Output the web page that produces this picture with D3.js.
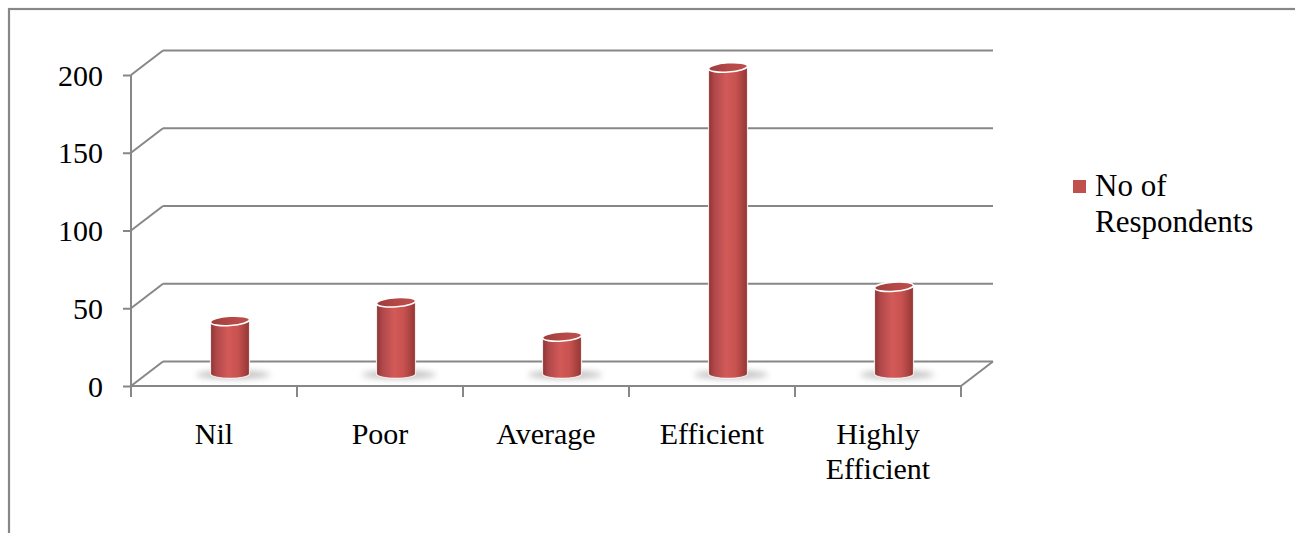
<!DOCTYPE html>
<html>
<head>
<meta charset="utf-8">
<script src="https://cdn.jsdelivr.net/npm/d3@7"></script>
<style>
  html, body { margin: 0; padding: 0; background: #fff; }
  svg { display: block; }
  text { font-family: "Liberation Serif", "Times New Roman", serif; fill: #000; }
</style>
</head>
<body>
<svg id="chart" width="1295" height="533"></svg>
<script>
// Ratings and respondent counts
const categories = ["Nil", "Poor", "Average", "Efficient", "Highly Efficient"];
const respondents = [34, 46, 24, 197, 56];
const yTicks = [0, 50, 100, 150, 200];
const seriesName = ["No of", "Respondents"];

const W = 1295, H = 533;
const svg = d3.select("#chart");
const defs = svg.append("defs");

// Plot box (front plane) and 3D depth offset
const plot = { left: 131, right: 961, top: 75, bottom: 386 };
const depth = { dx: 32, dy: -24.5 };
const grid = "#878787";
const fontSize = 30;

const x = d3.scaleBand().domain(categories).range([plot.left, plot.right]).padding(0);
const y = d3.scaleLinear().domain([0, 200]).range([plot.bottom, plot.top]);

// Outer frame
svg.append("rect")
  .attr("x", 9).attr("y", 9).attr("width", W + 20).attr("height", H + 20)
  .attr("fill", "none").attr("stroke", grid).attr("stroke-width", 2.2);

// Gradients for the cylinders
const bodyGrad = defs.append("linearGradient").attr("id", "body").attr("x1", 0).attr("x2", 1).attr("y1", 0).attr("y2", 0);
[[0, "#8c3432"], [0.15, "#b0474a"], [0.45, "#d25a58"], [0.7, "#c8524f"], [1, "#923634"]]
  .forEach(([o, c]) => bodyGrad.append("stop").attr("offset", o).attr("stop-color", c));
const topGrad = defs.append("linearGradient").attr("id", "top").attr("x1", 0).attr("x2", 1).attr("y1", 0).attr("y2", 0);
[[0, "#9c3c3a"], [0.5, "#b44846"], [1, "#bf4e4b"]]
  .forEach(([o, c]) => topGrad.append("stop").attr("offset", o).attr("stop-color", c));
defs.append("filter").attr("id", "soft").attr("x", "-50%").attr("y", "-200%").attr("width", "200%").attr("height", "500%")
  .append("feGaussianBlur").attr("stdDeviation", 3);

// Walls: back gridlines and left-side diagonals
const g = svg.append("g");
yTicks.forEach(t => {
  const yy = y(t);
  g.append("line")
    .attr("x1", plot.left + depth.dx).attr("x2", plot.right + depth.dx)
    .attr("y1", yy + depth.dy).attr("y2", yy + depth.dy)
    .attr("stroke", grid).attr("stroke-width", 2);
  g.append("line")
    .attr("x1", plot.left).attr("y1", yy)
    .attr("x2", plot.left + depth.dx).attr("y2", yy + depth.dy)
    .attr("stroke", grid).attr("stroke-width", 2);
});

// Floor front edge and right edge
g.append("line")
  .attr("x1", plot.left).attr("x2", plot.right)
  .attr("y1", y(0)).attr("y2", y(0))
  .attr("stroke", grid).attr("stroke-width", 2);
g.append("line")
  .attr("x1", plot.right).attr("y1", y(0))
  .attr("x2", plot.right + depth.dx).attr("y2", y(0) + depth.dy)
  .attr("stroke", grid).attr("stroke-width", 2);

// Category boundary ticks
const bounds = categories.map(c => x(c)).concat([plot.right]);
bounds.forEach(bx => {
  g.append("line")
    .attr("x1", bx).attr("x2", bx)
    .attr("y1", y(0)).attr("y2", y(0) + 11)
    .attr("stroke", grid).attr("stroke-width", 2);
});

// Value axis
const yAxis = d3.axisLeft(y).tickValues(yTicks).tickSize(8).tickPadding(20).tickSizeOuter(0);
const ya = svg.append("g").attr("transform", `translate(${plot.left},0)`).call(yAxis);
ya.select(".domain").attr("stroke", grid).attr("stroke-width", 2)
  .attr("d", `M0,${plot.top}V${plot.bottom + 11}`);
ya.selectAll(".tick line").attr("stroke", grid).attr("stroke-width", 2);
ya.selectAll(".tick text")
  .attr("font-family", "Liberation Serif, Times New Roman, serif")
  .attr("font-size", fontSize).attr("fill", "#000").attr("dy", "0.34em");

// Category labels (wrapped on spaces for multi-word names)
categories.forEach(c => {
  const cx = x(c) + x.bandwidth() / 2;
  const words = c.split(" ");
  const t = svg.append("text").attr("text-anchor", "middle").attr("font-size", fontSize);
  words.forEach((w, i) => {
    t.append("tspan").attr("x", cx).attr("y", 444 + i * 35).text(w);
  });
});

// Cylinders standing at mid-depth
const rx = 19.5, ry = 4.6;
const cyl = svg.append("g");
categories.forEach((c, i) => {
  const v = respondents[i];
  const cx = x(c) + x.bandwidth() / 2 + depth.dx / 2;
  const baseY = y(0) + depth.dy / 2;
  const topY = y(v) + depth.dy / 2;

  cyl.append("ellipse")
    .attr("cx", cx + 3).attr("cy", baseY + 1)
    .attr("rx", rx * 1.9).attr("ry", 4)
    .attr("fill", "#606060").attr("opacity", 0.4)
    .attr("filter", "url(#soft)");

  cyl.append("path")
    .attr("d", `M${cx - rx},${topY}L${cx - rx},${baseY}A${rx},${ry} 0 0 0 ${cx + rx},${baseY}L${cx + rx},${topY}Z`)
    .attr("fill", "url(#body)")
    .attr("stroke", "#fff").attr("stroke-width", 1.2).attr("stroke-opacity", 0.8);

  cyl.append("ellipse")
    .attr("cx", cx).attr("cy", topY)
    .attr("rx", rx).attr("ry", ry)
    .attr("transform", `rotate(-4 ${cx} ${topY})`)
    .attr("fill", "url(#top)")
    .attr("stroke", "#fff").attr("stroke-width", 1.6);
});

// Legend
const lg = svg.append("g");
lg.append("rect").attr("x", 1073).attr("y", 180).attr("width", 13).attr("height", 13).attr("fill", "#c0504d");
seriesName.forEach((s, i) => {
  lg.append("text").attr("x", 1095).attr("y", 196 + i * 36).attr("font-size", fontSize + 1).text(s);
});
</script>
</body>
</html>
